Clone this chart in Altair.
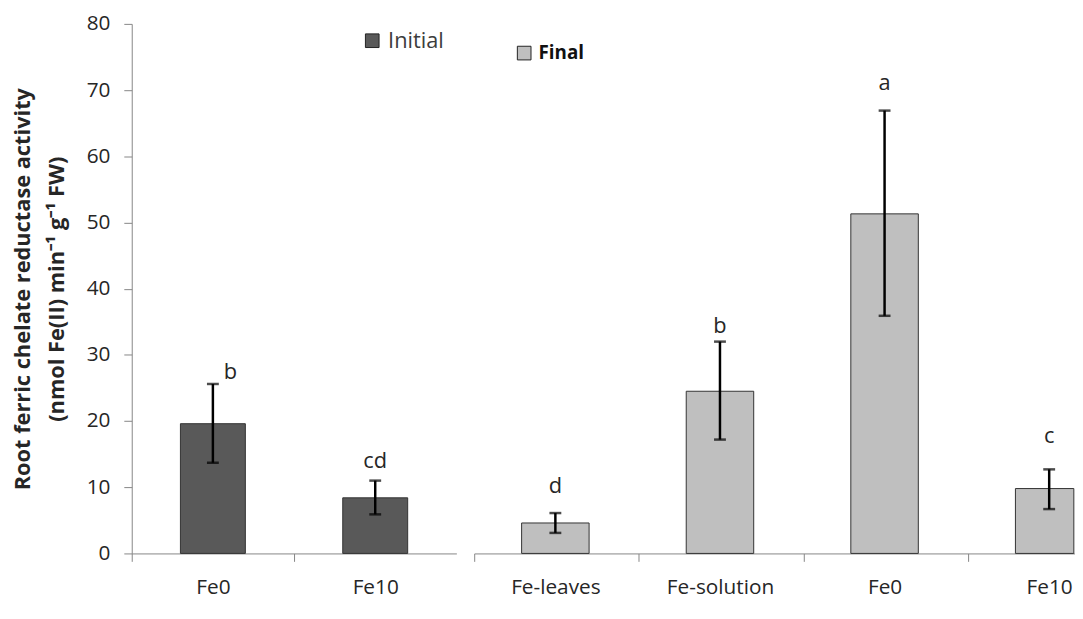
import altair as alt
import pandas as pd

# ---------------- data ----------------
init_cats = ["Fe0", "Fe10"]
init_vals = [19.6, 8.4]
init_lo = [13.7, 5.9]
init_hi = [25.6, 11.0]
init_letters = ["b", "cd"]

final_cats = ["Fe-leaves", "Fe-solution", "Fe0", "Fe10"]
final_vals = [4.6, 24.5, 51.3, 9.8]
final_lo = [3.1, 17.2, 35.9, 6.7]
final_hi = [6.1, 32.0, 66.9, 12.7]
final_letters = ["d", "b", "a", "c"]

y_ticks = [0, 10, 20, 30, 40, 50, 60, 70, 80]
y_title = ["Root ferric chelate reductase activity", "(nmol  Fe(II) min\u207b\u00b9 g\u207b\u00b9 FW)"]

df_init = pd.DataFrame({"cat": init_cats, "val": init_vals, "lo": init_lo, "hi": init_hi,
                        "letter": init_letters, "series": "Initial"})
df_final = pd.DataFrame({"cat": final_cats, "val": final_vals, "lo": final_lo, "hi": final_hi,
                         "letter": final_letters, "series": "Final"})

# ---------------- style ----------------
FONT = "Open Sans"
AXIS_GREY = "#868686"
TEXT = "#262626"
H = 535
yscale = alt.Scale(domain=[0, 80], nice=False, zero=True)


def panel(df, cats, color, width, sc, tick_off, label_off, x_shift, half_bw, show_y,
          legend_xy, legend_bold, letter_dy, letter_dx, edge_cat=None, edge_width=None):
    xscale = alt.Scale(domain=cats, **sc)
    xaxis = alt.Axis(title=None, labelAngle=0, labelFont=FONT, labelFontSize=21, labelColor=TEXT,
                     labelPadding=15, tickSize=8, tickColor=AXIS_GREY, domainColor=AXIS_GREY,
                     tickOffset=tick_off, labelOffset=label_off, labelOverlap=False)
    if show_y:
        yaxis = alt.Axis(values=y_ticks, title=y_title, titleFont=FONT, titleFontSize=22,
                         titleFontWeight="bold", titleColor=TEXT, titleLineHeight=34,
                         titlePadding=18, labelFont=FONT, labelFontSize=21, labelColor=TEXT,
                         labelPadding=14, tickSize=8, tickColor=AXIS_GREY, domainColor=AXIS_GREY,
                         grid=False)
    else:
        yaxis = None

    def Y(f):
        return alt.Y(f, scale=yscale, axis=yaxis)

    X = alt.X("cat:N", sort=cats, scale=xscale, axis=xaxis)
    xo_bar = alt.value(x_shift)
    xo_mid = alt.value(x_shift + half_bw)
    base = alt.Chart(df)
    color_enc = alt.Color("series:N", scale=alt.Scale(domain=[df["series"][0]], range=[color]),
                          legend=alt.Legend(title=None, orient="none", legendX=legend_xy[0],
                                            legendY=legend_xy[1], symbolType="square",
                                            symbolSize=190, symbolStrokeColor="#222222",
                                            symbolStrokeWidth=1, symbolOpacity=1,
                                            labelFont=FONT,
                                            labelFontSize=22 if not legend_bold else 19,
                                            labelFontWeight="bold" if legend_bold else "normal",
                                            labelColor="#111111" if legend_bold else "#3c3c3c",
                                            labelOffset=5, padding=0))
    main_src = base if edge_cat is None else base.transform_filter(alt.datum.cat != edge_cat)
    bars = main_src.mark_bar(stroke="#333333", strokeWidth=1).encode(
        x=X, xOffset=xo_bar, y=Y("val:Q"), color=color_enc)
    layers = [bars]
    if edge_cat is not None:
        # bar cut by the right edge of the picture, as in the original figure
        edge_bar = base.transform_filter(alt.datum.cat == edge_cat).mark_bar(
            stroke="#333333", strokeWidth=1, width=edge_width).encode(
            x=X, xOffset=alt.value(x_shift + edge_width / 2), y=Y("val:Q"), color=color_enc)
        layers.append(edge_bar)
    stem = base.mark_rule(color="black", strokeWidth=2.5).encode(
        x=X, xOffset=xo_mid, y=Y("lo:Q"), y2="hi:Q")
    caps_hi = base.mark_tick(color="black", thickness=2.5, size=12, orient="horizontal").encode(
        x=X, xOffset=xo_mid, y=Y("hi:Q"))
    caps_lo = base.mark_tick(color="black", thickness=2.5, size=12, orient="horizontal").encode(
        x=X, xOffset=xo_mid, y=Y("lo:Q"))
    layers += [stem, caps_hi, caps_lo]
    for c in cats:
        dy = letter_dy.get(c, -12)
        dx = letter_dx.get(c, 0)
        t = base.transform_filter(alt.datum.cat == c).mark_text(
            font=FONT, fontSize=22, color=TEXT, baseline="bottom" if dx == 0 else "middle",
            align="center" if dx == 0 else "left", dy=dy, dx=dx).encode(
            x=X, xOffset=xo_mid, y=Y("hi:Q"), text="letter:N")
        layers.append(t)
    return alt.layer(*layers).properties(width=width, height=H)


left = panel(df_init, init_cats, "#595959", 328,
             dict(paddingInner=0.6, paddingOuter=0.3), -82, 82, 0, 32.8, True,
             (232, 6), False, {"Fe10": -8}, {"Fe0": 11})
right = panel(df_final, final_cats, "#BFBFBF", 607,
              dict(paddingInner=0.59, paddingOuter=0.12, align=1), -74, 82, 8, 34.1, False,
              (41, 20), True,
              {"Fe-leaves": -15, "Fe-solution": -4, "Fe0": -16, "Fe10": -22}, {},
              edge_cat="Fe10", edge_width=59)

chart = alt.hconcat(left, right, spacing=17).resolve_scale(
    color="independent", x="independent", y="shared").resolve_legend(color="independent").properties(
    padding={"left": 3, "top": 2, "right": 0, "bottom": 0}, background="white").configure_view(
    strokeWidth=0, stroke=None)

chart.save("out.html", embed_options={"renderer": "svg", "actions": False})
